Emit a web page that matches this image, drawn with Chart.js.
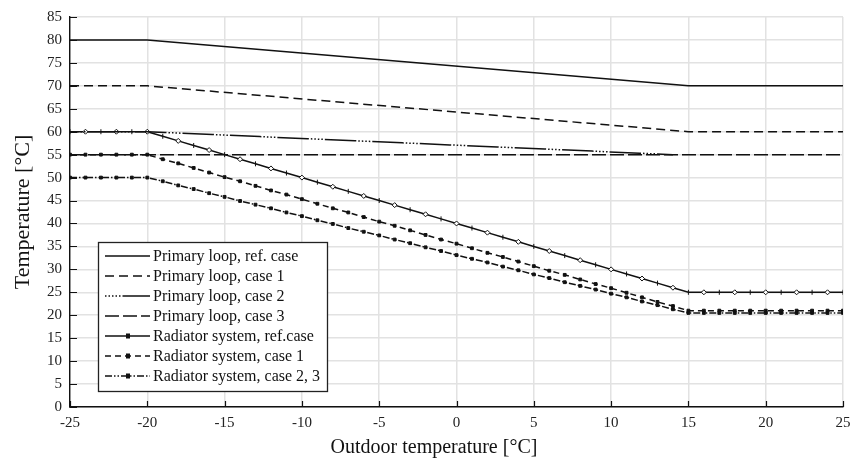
<!DOCTYPE html>
<html>
<head>
<meta charset="utf-8">
<script src="https://cdn.jsdelivr.net/npm/chart.js@4.4.0/dist/chart.umd.min.js"></script>
<style>
  body { margin: 0; background: #fff; }
  #wrap { width: 854px; height: 468px; }
</style>
</head>
<body>
<div id="wrap"><canvas id="myChart"></canvas></div>
<script>
// outdoor temperature break points for the primary loop curves
const primaryX = [-25, -20, 15, 25];
const primaryRef = [80, 80, 70, 70];
const primaryCase1 = [70, 70, 60, 60];
const primaryCase2X = [-25, -20, 14];
const primaryCase2 = [60, 60, 55];
const primaryCase3 = [55, 55, 55, 55];

// radiator system, one marker per degree from -25 to 25
const outdoorTemps = [-25, -24, -23, -22, -21, -20, -19, -18, -17, -16, -15, -14, -13, -12, -11, -10,
  -9, -8, -7, -6, -5, -4, -3, -2, -1, 0, 1, 2, 3, 4, 5, 6, 7, 8, 9, 10, 11, 12, 13, 14, 15,
  16, 17, 18, 19, 20, 21, 22, 23, 24, 25];
const radiatorRef = [60, 60, 60, 60, 60, 60, 59, 58, 57, 56, 55, 54, 53, 52, 51, 50,
  49, 48, 47, 46, 45, 44, 43, 42, 41, 40, 39, 38, 37, 36, 35, 34, 33, 32, 31, 30, 29, 28, 27, 26, 25,
  25, 25, 25, 25, 25, 25, 25, 25, 25, 25];
const radiatorCase1 = [55, 55, 55, 55, 55, 55, 54.0, 53.1, 52.1, 51.1, 50.1, 49.2, 48.2, 47.2, 46.3, 45.3,
  44.3, 43.3, 42.4, 41.4, 40.4, 39.5, 38.5, 37.5, 36.5, 35.6, 34.6, 33.6, 32.7, 31.7, 30.7, 29.7, 28.8, 27.8, 26.8, 25.9,
  24.9, 23.9, 22.9, 22.0, 21.0, 21, 21, 21, 21, 21, 21, 21, 21, 21, 21];
const radiatorCase23 = [50, 50, 50, 50, 50, 50, 49.2, 48.3, 47.5, 46.6, 45.8, 44.9, 44.1, 43.3, 42.4, 41.6,
  40.7, 39.9, 39.0, 38.2, 37.4, 36.5, 35.7, 34.8, 34.0, 33.1, 32.3, 31.5, 30.6, 29.8, 28.9, 28.1, 27.2, 26.4, 25.6, 24.7,
  23.9, 23.0, 22.2, 21.3, 20.5, 20.5, 20.5, 20.5, 20.5, 20.5, 20.5, 20.5, 20.5, 20.5, 20.5];

const seriesLabels = [
  'Primary loop, ref. case',
  'Primary loop, case 1',
  'Primary loop, case 2',
  'Primary loop, case 3',
  'Radiator system, ref.case',
  'Radiator system, case 1',
  'Radiator system, case 2, 3'
];
const xTitle = 'Outdoor temperature [°C]';
const yTitle = 'Temperature [°C]';

function pts(xs, ys) {
  return xs.map((x, i) => ({ x: x, y: ys[i] }));
}

const ink = '#111';
const serif = '"Liberation Serif", "DejaVu Serif", serif';

const datasets = [
  { label: seriesLabels[0], data: pts(primaryX, primaryRef), borderDash: [] },
  { label: seriesLabels[1], data: pts(primaryX, primaryCase1), borderDash: [9, 5] },
  { label: seriesLabels[2], data: pts(primaryCase2X, primaryCase2), borderDash: [1.5, 2, 1.5, 2, 1.5, 2, 1.5, 2, 1.5, 2, 30, 0] },
  { label: seriesLabels[3], data: pts(primaryX, primaryCase3), borderDash: [14, 4] },
  {
    label: seriesLabels[4], data: pts(outdoorTemps, radiatorRef), borderDash: [],
    pointRadius: 2.5,
    pointStyle: ctx => ctx.dataIndex % 2 ? 'rectRot' : 'line',
    pointRotation: ctx => ctx.dataIndex % 2 ? 0 : 90,
    pointBackgroundColor: '#fff'
  },
  {
    label: seriesLabels[5], data: pts(outdoorTemps, radiatorCase1), borderDash: [6, 4],
    pointRadius: 2, pointStyle: 'rect', pointBackgroundColor: ink
  },
  {
    label: seriesLabels[6], data: pts(outdoorTemps, radiatorCase23), borderDash: [7, 2, 1.5, 2, 1.5, 2],
    pointRadius: 2, pointStyle: 'rect', pointBackgroundColor: ink
  }
];

datasets.forEach(d => {
  d.showLine = true;
  d.borderColor = ink;
  d.borderWidth = 1.5;
  d.fill = false;
  if (d.pointRadius === undefined) d.pointRadius = 0;
  d.pointBorderColor = ink;
  d.pointBorderWidth = 1;
});

// inward tick marks on both axes, plus the x title (centred on the page, not the axis)
const innerTicks = {
  id: 'innerTicks',
  afterDatasetsDraw(chart) {
    const ctx = chart.ctx;
    const xs = chart.scales.x, ys = chart.scales.y;
    ctx.save();
    ctx.strokeStyle = ink;
    ctx.lineWidth = 1.2;
    ctx.beginPath();
    xs.ticks.forEach(t => {
      const px = Math.round(xs.getPixelForValue(t.value)) + 0.5;
      ctx.moveTo(px, ys.bottom);
      ctx.lineTo(px, ys.bottom - 6);
    });
    ys.ticks.forEach(t => {
      const py = Math.round(ys.getPixelForValue(t.value)) + 0.5;
      ctx.moveTo(xs.left, py);
      ctx.lineTo(xs.left + 7, py);
    });
    ctx.stroke();
    ctx.fillStyle = ink;
    ctx.font = '20px ' + serif;
    ctx.textAlign = 'center';
    ctx.textBaseline = 'middle';
    ctx.fillText(xTitle, 434, 448);
    ctx.restore();
  }
};

// boxed legend in the lower left corner of the plot
const boxLegend = {
  id: 'boxLegend',
  afterDraw(chart) {
    const ctx = chart.ctx;
    const x0 = 98, y0 = 242, w = 229, h = 149;
    ctx.save();
    ctx.fillStyle = '#fff';
    ctx.fillRect(x0, y0, w, h);
    ctx.strokeStyle = '#222';
    ctx.lineWidth = 1.3;
    ctx.strokeRect(x0 + 0.5, y0 + 0.5, w, h);
    ctx.font = '16px ' + serif;
    ctx.textBaseline = 'middle';
    chart.data.datasets.forEach((d, i) => {
      const y = y0 + 14 + i * 20;
      ctx.strokeStyle = ink;
      ctx.lineWidth = 1.5;
      ctx.setLineDash(d.borderDash || []);
      ctx.beginPath();
      ctx.moveTo(105, y);
      ctx.lineTo(150, y);
      ctx.stroke();
      ctx.setLineDash([]);
      if (d.pointRadius) {
        ctx.fillStyle = ink;
        ctx.fillRect(126, y - 2.5, 4, 5);
      }
      ctx.fillStyle = ink;
      ctx.fillText(d.label, 153, y + 1);
    });
    ctx.restore();
  }
};

new Chart(document.getElementById('myChart'), {
  type: 'scatter',
  data: { datasets: datasets },
  options: {
    responsive: true,
    maintainAspectRatio: false,
    animation: false,
    layout: { padding: { top: 10, right: 11, left: 6, bottom: 0 } },
    plugins: {
      legend: { display: false },
      tooltip: { enabled: false }
    },
    scales: {
      x: {
        type: 'linear',
        min: -25,
        max: 25,
        ticks: { stepSize: 5, color: '#222', font: { family: serif, size: 15 }, padding: 7 },
        grid: { color: '#e2e2e2', lineWidth: 1.5, drawTicks: false },
        border: { color: ink, width: 1.4 },
        title: { display: false },
        afterFit: s => { s.height = 61; s.paddingRight = 0; s.paddingLeft = 0; }
      },
      y: {
        min: 0,
        max: 85,
        ticks: { stepSize: 5, color: '#222', font: { family: serif, size: 15 }, padding: 8 },
        grid: { color: '#e2e2e2', lineWidth: 1.5, drawTicks: false },
        border: { color: ink, width: 1.4 },
        title: {
          display: true,
          text: yTitle,
          color: ink,
          font: { family: serif, size: 22 },
          padding: { top: 4, bottom: 4 }
        },
        afterFit: s => { s.width = 64; }
      }
    }
  },
  plugins: [innerTicks, boxLegend]
});
</script>
</body>
</html>
